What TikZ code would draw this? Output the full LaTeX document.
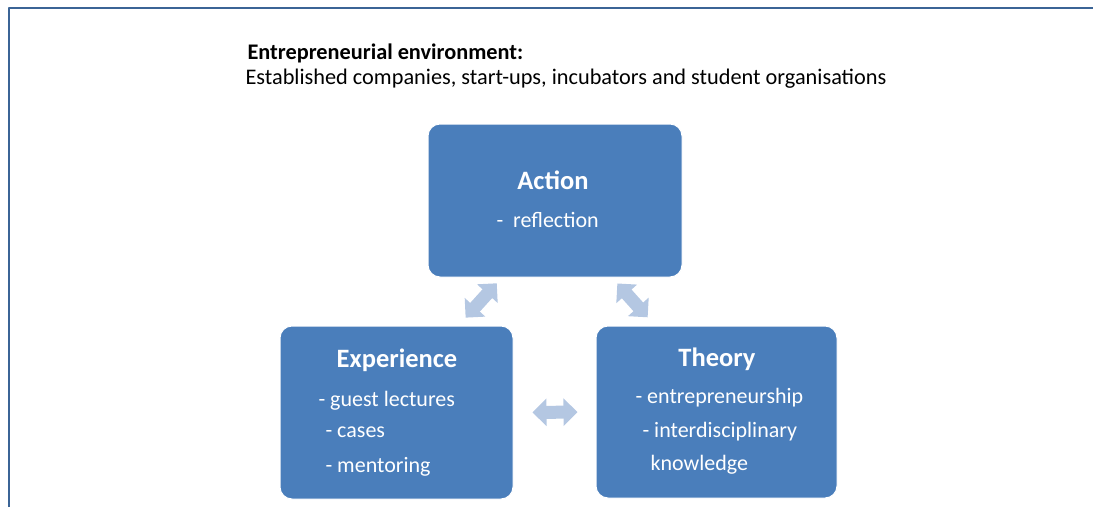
\documentclass[tikz,border=0pt]{standalone}
\usepackage{fontspec}
\setmainfont{Carlito}
\usepackage[usenames]{xcolor}
\usepackage{tikz}
\usetikzlibrary{arrows.meta}
\definecolor{boxblue}{HTML}{4A7EBB}
\definecolor{arrowblue}{HTML}{B4C7E2}
\definecolor{framecol}{HTML}{3B6496}

\begin{document}
\begin{tikzpicture}[line cap=round,line join=round,x=1pt,y=-1pt,
  box/.style={draw=white,line width=1pt,fill=boxblue,rounded corners=12pt,inner sep=0pt},
  head/.style={anchor=base,text=white,font=\fontsize{26.5}{30}\selectfont\bfseries},
  item/.style={anchor=base west,text=white,font=\fontsize{22}{26}\selectfont},
  toptext/.style={anchor=base west,font=\fontsize{22.3}{26}\selectfont},
  dblarrow/.style={draw=arrowblue,line width=13pt,line cap=butt,
    {Triangle[width=27pt,length=14pt]}-{Triangle[width=27pt,length=14pt]}}]
\useasboundingbox (0,0) rectangle (1093,507);
\draw[framecol,line width=2.5pt,line cap=butt] (9,507)-- (9,8)-- (1093,8);
\node[toptext,font=\fontsize{22.3}{26}\selectfont\bfseries] (envhead) at (244,59) {Entrepreneurial environment:};
\node[toptext] (envtext) at (242,84) {Established companies, start-ups, incubators and student organisations};
\node[box,minimum width=254pt,minimum height=153pt] (act) at (555,200.5) {};
\node[box,minimum width=233pt,minimum height=173pt] (exp) at (396.5,412.5) {};
\node[box,minimum width=241pt,minimum height=172pt] (theo) at (716.5,412) {};
\node[head] (acthead) at (553,189) {Action};
\node[item] (actrefl) at (493,227) {-~~reflection};
\node[head] (exphead) at (397,367) {Experience};
\node[item] (expguest) at (315,406) {- guest lectures};
\node[item] (expcases) at (322,437) {- cases};
\node[item] (expment) at (322,472) {- mentoring};
\node[head] (theohead) at (717,366) {Theory};
\node[item] (theoentr) at (632,403) {- entrepreneurship};
\node[item] (theointer) at (639,437) {- interdisciplinary};
\node[item] (theoknow) at (647,470) {knowledge};
\draw[dblarrow,shorten <=10.6pt,shorten >=7.8pt] ([xshift=62pt]exp.north)-- ([xshift=-53pt]act.south);
\draw[dblarrow,shorten <=8pt,shorten >=11pt] ([xshift=57pt]act.south)-- ([xshift=-61.5pt]theo.north);
\draw[dblarrow,shorten <=19pt,shorten >=18pt] (exp.east)-- (theo.west);
\end{tikzpicture}
\end{document}
